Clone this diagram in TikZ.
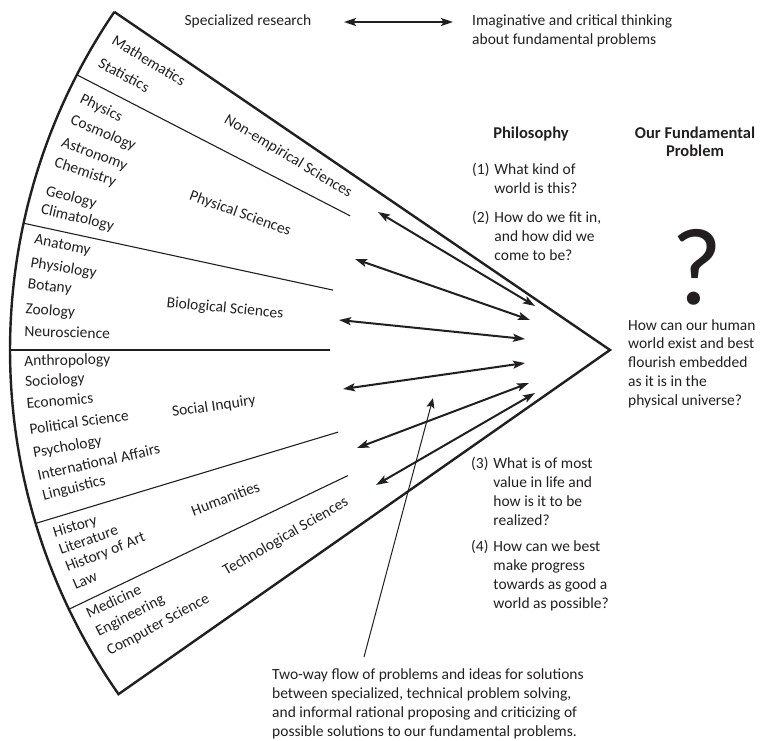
\documentclass[tikz,border=0pt]{standalone}
\usepackage{fontspec}
\setmainfont{Carlito}
\usetikzlibrary{arrows.meta,calc}
\definecolor{ink}{RGB}{35,31,32}
\begin{document}
\begin{tikzpicture}[x=1pt,y=-1pt,
  txt/.style={font=\fontsize{15.5}{19}\selectfont, text=ink, inner sep=0pt},
  item/.style={txt, anchor=west, text height=11pt, text depth=3.5pt},
  cat/.style={txt, text height=11pt, text depth=3.5pt},
  head/.style={font=\fontsize{16.5}{18}\selectfont\bfseries, text=ink, inner sep=0pt},
  fan/.style={draw=ink, line width=2.4pt, line join=miter},
  divider/.style={draw=ink, line width=1.1pt},
  flow/.style={draw=ink, line width=2pt, {Stealth[length=12pt,width=8pt,inset=2.5pt]}-{Stealth[length=12pt,width=8pt,inset=2.5pt]}},
  thinarrow/.style={draw=ink, line width=1pt, -{Stealth[length=10pt,width=8pt,inset=2pt]}}
]
\useasboundingbox (0,0) rectangle (764,741);
\coordinate (apex) at (610,350);
\coordinate (tc) at ([shift={(214.3:600)}]apex);
\coordinate (bc) at ([shift={(145:600)}]apex);
\draw[fan] (tc) -- (apex) -- (bc) -- plot[domain=145:214.3,samples=100] ({610+600*cos(\x)},{350+600*sin(\x)}) -- cycle;
% dividers
\foreach \th/\r in {207.3/292.5, 192.2/283.4, 180/280, 163.2/284, 154.4/290.7}
  \draw[divider] ([shift={(\th:600)}]apex) -- ([shift={(\th:\r)}]apex);
% field items: text / angular position / rotation
\foreach \t/\a/\ro [count=\i] in {Mathematics/31.9/31, Statistics/29.3/28.5, Physics/25.4/26, Cosmology/23.1/23, Astronomy/20.7/20.5, Chemistry/18.6/18, Geology/15.7/15, Climatology/13.8/13, Anatomy/10.8/11, Physiology/8.5/9, Botany/6.4/7, Zoology/3.9/4, Neuroscience/1.7/1.5, Anthropology/-1.2/-1, Sociology/-3.2/-3, Economics/-5.4/-5, Political Science/-7.9/-8, Psychology/-10.2/-10, International Affairs/-12.5/-12.5, Linguistics/-14.5/-14, History/-18.3/-17, Literature/-20.1/-19.5, History of Art/-21.9/-21.5, Law/-23.8/-23, Medicine/-26.9/-25, Engineering/-28.9/-27, Computer Science/-31.1/-28.5}{
  \pgfmathsetmacro\th{180+(\a)}
  \pgfmathsetmacro\rt{0-(\ro)}
  \node[item, rotate=\rt] (f\i) at ([shift={(\th:586)}]apex) {\t};
}
% category labels
\node[cat, rotate=-31] (nes) at (288,157) {Non-empirical Sciences};
\node[cat, rotate=-20] (phs) at (240,214) {Physical Sciences};
\node[cat, rotate=-5.5] (bis) at (225,309) {Biological Sciences};
\node[cat, rotate=8.5] (soi) at (214,407) {Social Inquiry};
\node[cat, rotate=20.5] (hum) at (226,500) {Humanities};
\node[cat, rotate=30] (tes) at (286,537) {Technological Sciences};
% top line
\node[txt, anchor=base] (spec) at (248,26) {Specialized research};
\node[txt, anchor=base west] (imag) at (472,26) {\begin{tabular}[t]{@{}l@{}}Imaginative and critical thinking\\about fundamental problems\end{tabular}};
\coordinate (tl) at (344,22);
\coordinate (tr) at (453,22);
\draw[flow] (tl) -- (tr);
% headings
\node[head, anchor=base] (phil) at (531,139) {Philosophy};
\node[head, anchor=base] (ofp) at (695,139) {\begin{tabular}[t]{@{}c@{}}Our Fundamental\\Problem\end{tabular}};
% questions
\node[txt, anchor=base west] (q1) at (472,175) {\begin{tabular}[t]{@{}l@{\hspace{5pt}}l@{}}(1)&What kind of\\&world is this?\end{tabular}};
\node[txt, anchor=base west] (q2) at (472,223) {\begin{tabular}[t]{@{}l@{\hspace{5pt}}l@{}}(2)&How do we fit in,\\&and how did we\\&come to be?\end{tabular}};
\node[txt, anchor=base west] (q3) at (471,468) {\begin{tabular}[t]{@{}l@{\hspace{5pt}}l@{}}(3)&What is of most\\&value in life and\\&how is it to be\\&realized?\end{tabular}};
\node[txt, anchor=base west] (q4) at (471,551) {\begin{tabular}[t]{@{}l@{\hspace{5pt}}l@{}}(4)&How can we best\\&make progress\\&towards as good a\\&world as possible?\end{tabular}};
% fundamental problem
\node[txt, font=\fontsize{110}{110}\selectfont, anchor=base] (qm) at (697,305) {?};
\node[txt, anchor=base west] (hc) at (628,330) {\begin{tabular}[t]{@{}l@{}}How can our human\\world exist and best\\flourish embedded\\as it is in the\\physical universe?\end{tabular}};
% bottom note
\node[txt, anchor=base west] (note) at (272,679) {\begin{tabular}[t]{@{}l@{}}Two-way flow of problems and ideas for solutions\\between specialized, technical problem solving,\\and informal rational proposing and criticizing of\\possible solutions to our fundamental problems.\end{tabular}};
% two-way arrows
\coordinate (a1l) at (378,212); \coordinate (a1r) at (535,306);
\coordinate (a2l) at (355,259); \coordinate (a2r) at (530,320);
\coordinate (a3l) at (339,320); \coordinate (a3r) at (525,339);
\coordinate (a4l) at (343,389); \coordinate (a4r) at (525,363);
\coordinate (a5l) at (357,448); \coordinate (a5r) at (529,383);
\coordinate (a6l) at (376,485); \coordinate (a6r) at (535,393);
\foreach \k in {1,...,6} \draw[flow] (a\k l) -- (a\k r);
\coordinate (ns) at (364,657);
\coordinate (nt) at (433,398);
\draw[thinarrow] (ns) -- (nt);
\end{tikzpicture}
\end{document}
